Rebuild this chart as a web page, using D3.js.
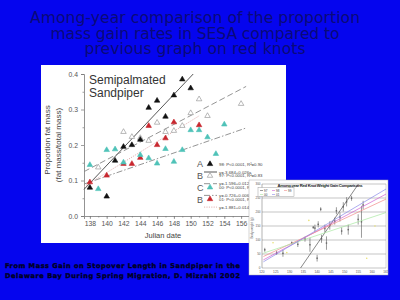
<!DOCTYPE html>
<html>
<head>
<meta charset="utf-8">
<script src="https://cdn.jsdelivr.net/npm/d3@7"></script>
<style>
  body { margin: 0; background: #0505ee; }
  svg { display: block; }
</style>
</head>
<body>
<script>
// ---- slide text ----
var titleLines = ['Among-year comparison of the proportion', 'mass gain rates in SESA compared to', 'previous graph on red knots'];
var creditLines = ['From Mass Gain on Stopover Length in Sandpiper in the', 'Delaware Bay During Spring Migration,  D. Mizrahi 2002'];

// ---- main chart (semipalmated sandpiper) ----
var xTicks = [138, 140, 142, 144, 146, 148, 150, 152, 154, 156];
var yTicks = [0.0, 0.1, 0.2, 0.3, 0.4];
var seriesKeys = ['98', '97', '00', '01'];
var seriesLetters = ['A', 'B', 'C', 'B'];
var seriesStats = ['98: P<0.0001, R\u00b2=0.90', '97: P<0.0001, R\u00b2=0.83', '00: P<0.0001, R\u00b2=0.41', '01: P<0.0001, R\u00b2=0.75'];
var seriesEquations = ['y=-3.684+0.026x', 'y=-1.596+0.012x', 'y=-0.726+0.006x', 'y=-1.881+0.014x'];

var dates98 = [138, 140, 141, 142, 143, 144, 145, 146, 147, 148, 149, 150];
var mass98 = [0.080, 0.055, 0.156, 0.195, 0.200, 0.215, 0.305, 0.325, 0.280, 0.340, 0.385, 0.360];
var dates97 = [139, 142, 143, 144, 145, 146, 147, 148, 149, 150, 151, 152, 156];
var mass97 = [0.137, 0.237, 0.223, 0.220, 0.212, 0.263, 0.237, 0.240, 0.254, 0.290, 0.329, 0.282, 0.316];
var dates00 = [138, 139, 140, 141, 142, 144, 145, 146, 147, 148, 149, 150, 151, 152, 153, 154];
var mass00 = [0.144, 0.076, 0.186, 0.188, 0.151, 0.172, 0.163, 0.148, 0.189, 0.153, 0.186, 0.242, 0.242, 0.222, 0.175, 0.258];
var dates01 = [138, 140, 142, 143, 144, 145, 146, 147, 148, 151];
var mass01 = [0.095, 0.114, 0.147, 0.147, 0.164, 0.254, 0.200, 0.219, 0.264, 0.256];

// fitted lines: [startDate, startValue, endDate, endValue]
var fit98 = [137.3, 0.075, 150.3, 0.400];
var fit97 = [137.3, 0.125, 156.6, 0.365];
var fit00 = [137.3, 0.090, 156.6, 0.248];
var fit01 = [137.3, 0.083, 151.0, 0.282];

// ---- inset (red knot weight gain) ----
var insetTitle = 'Among-year Red Knot Weight Gain Comparisons';
var insetYears = ['97', '98', '99', '00', '01'];
var insetXTicks = [120, 125, 130, 135, 140, 145, 150, 155, 160, 165];
var insetYTicks = [0, 50, 100, 150, 200, 250, 300];
var insetFits = [
  [134, 0, 155, 300],
  [120.5, 29, 165, 264],
  [120.5, 41, 165, 246],
  [120.5, 53, 165, 198],
  [120.5, 22, 165, 282]
];
var barDates = [121, 125.3, 127.6, 130.8, 133, 135.6, 137.4, 138.6, 139.2, 140, 140.4, 141.6, 142.8, 143.4, 144.6, 146.4, 147, 148.3, 148.9, 149.5, 150.7, 151.3, 152.5, 154.9, 156.1, 156.7, 141.3];
var barLow = [58, 47, 40, 85, 75, 94, 58, 140, 130, 23, 145, 90, 127, 65, 137, 155, 192, 166, 119, 202, 220, 119, 240, 155, 108, 210, 203];
var barHigh = [72, 61, 65, 95, 94, 112, 108, 150, 155, 47, 167, 119, 155, 113, 167, 180, 217, 199, 145, 235, 253, 155, 258, 192, 222, 240, 217];
var dotDates = [129, 137, 158, 161, 124];
var dotWeights = [55, 170, 35, 150, 90];

var W = 400, H = 300;
var svg = d3.select('body').append('svg').attr('width', W).attr('height', H);

svg.append('rect').attr('width', W).attr('height', H).attr('fill', '#0505ee');

// title
var titleWidth = [330, 289, 221];
svg.selectAll('.title').data(titleLines).enter().append('text')
    .attr('class', 'title')
    .attr('x', 195)
    .attr('y', function(d, i) { return 23 + i * 15.5; })
    .attr('text-anchor', 'middle')
    .attr('textLength', function(d, i) { return titleWidth[i]; })
    .style('font-family', 'DejaVu Sans, Verdana, sans-serif')
    .style('font-size', '15.5px')
    .style('fill', '#0a0a78')
    .text(function(d) { return d; });

// credit lines
svg.selectAll('.credit').data(creditLines).enter().append('text')
    .attr('class', 'credit')
    .attr('x', 5)
    .attr('y', function(d, i) { return 268 + i * 10; })
    .attr('textLength', 235)
    .style('font-family', 'DejaVu Sans, Verdana, sans-serif')
    .style('font-weight', 'bold')
    .style('font-size', '6.6px')
    .style('stroke', '#00001e')
    .style('stroke-width', 0.35)
    .style('fill', '#00001e')
    .text(function(d) { return d; });

// white panel for the main figure
svg.append('rect').attr('x', 41).attr('y', 65).attr('width', 245).attr('height', 178).attr('fill', '#ffffff');

var x = d3.scaleLinear().domain([137.3, 157]).range([84, 249.5]);
var y = d3.scaleLinear().domain([0, 0.4]).range([216, 74]);

var g = svg.append('g');
var axisColor = '#777';

// axes
g.append('g').attr('transform', 'translate(0,216)')
    .call(d3.axisBottom(x).tickValues(xTicks).tickSize(3).tickPadding(2).tickFormat(d3.format('d')));
g.append('g').attr('transform', 'translate(0,216)')
    .call(d3.axisBottom(x).tickValues(d3.range(138, 157, 1)).tickSize(1.5).tickFormat(''))
    .call(function(a) { a.select('.domain').remove(); });
g.append('g').attr('transform', 'translate(84,0)')
    .call(d3.axisLeft(y).tickValues(yTicks).tickSize(3).tickPadding(3).tickFormat(d3.format('.1f')));
g.append('g').attr('transform', 'translate(84,0)')
    .call(d3.axisLeft(y).tickValues([0.05, 0.15, 0.25, 0.35]).tickSize(1.5).tickFormat(''))
    .call(function(a) { a.select('.domain').remove(); });
g.selectAll('.domain').attr('stroke', axisColor).attr('stroke-width', 0.8);
g.selectAll('.tick line').attr('stroke', axisColor).attr('stroke-width', 0.7);
g.selectAll('.tick text')
    .style('font-family', 'Liberation Sans, Arial, sans-serif')
    .style('font-size', '6.8px')
    .style('fill', '#555');

g.append('text').attr('x', 163).attr('y', 237.5).attr('text-anchor', 'middle')
    .style('font-family', 'Liberation Sans, Arial, sans-serif').style('font-size', '7.5px').style('fill', '#444')
    .text('Julian date');
g.append('text').attr('transform', 'translate(50,140) rotate(-90)').attr('text-anchor', 'middle')
    .style('font-family', 'Liberation Sans, Arial, sans-serif').style('font-size', '8px').style('fill', '#444')
    .text('Proportion fat mass');
g.append('text').attr('transform', 'translate(61,145) rotate(-90)').attr('text-anchor', 'middle')
    .style('font-family', 'Liberation Sans, Arial, sans-serif').style('font-size', '8px').style('fill', '#444')
    .text('(fat mass/total mass)');

g.append('text').attr('x', 89).attr('y', 84)
    .style('font-family', 'Liberation Sans, Arial, sans-serif').style('font-size', '12px').style('fill', '#333')
    .text('Semipalmated');
g.append('text').attr('x', 89).attr('y', 97)
    .style('font-family', 'Liberation Sans, Arial, sans-serif').style('font-size', '12px').style('fill', '#333')
    .text('Sandpiper');

// series styles
var fits = [fit98, fit97, fit00, fit01];
var lineColors = ['#444', '#888', '#888', '#e2b4b4'];
var lineDash = [null, '6,3', '6,2,1.5,2', '1.2,1.2'];
var lineWidth = [0.9, 0.9, 0.9, 1];
var markFill = ['#111', '#fff', '#4fc2b8', '#c8262e'];
var markStroke = ['#111', '#8a8a8a', '#4fc2b8', '#c8262e'];

// regression lines
g.selectAll('.fit').data(fits).enter().append('line')
    .attr('class', 'fit')
    .attr('x1', function(d) { return x(d[0]); })
    .attr('y1', function(d) { return y(d[1]); })
    .attr('x2', function(d) { return x(d[2]); })
    .attr('y2', function(d) { return y(d[3]); })
    .attr('stroke', function(d, i) { return lineColors[i]; })
    .attr('stroke-width', function(d, i) { return lineWidth[i]; })
    .attr('stroke-dasharray', function(d, i) { return lineDash[i]; });

// points
var tri = d3.symbol().type(d3.symbolTriangle).size(13);
var allDates = [dates98, dates97, dates00, dates01];
var allMass = [mass98, mass97, mass00, mass01];
// draw 01, 00, 97 then 98 on top
[3, 2, 1, 0].forEach(function(s) {
    g.selectAll('.pt' + s).data(allDates[s]).enter().append('path')
        .attr('class', 'pt' + s)
        .attr('d', tri)
        .attr('transform', function(d, i) { return 'translate(' + x(d) + ',' + y(allMass[s][i]) + ')'; })
        .attr('fill', markFill[s])
        .attr('stroke', markStroke[s])
        .attr('stroke-width', 0.6);
});

// legend
var legend = g.append('g');
seriesKeys.forEach(function(k, i) {
    var ry = 164 + i * 11.7;
    legend.append('text').attr('x', 197).attr('y', ry + 3.4)
        .style('font-family', 'Liberation Sans, Arial, sans-serif').style('font-size', '9px').style('fill', '#555')
        .text(seriesLetters[i]);
    legend.append('path').attr('d', tri)
        .attr('transform', 'translate(210,' + ry + ')')
        .attr('fill', markFill[i]).attr('stroke', markStroke[i]).attr('stroke-width', 0.6);
    legend.append('text').attr('x', 219).attr('y', ry + 1.6)
        .style('font-family', 'Liberation Sans, Arial, sans-serif').style('font-size', '4.3px').style('fill', '#444')
        .text(seriesStats[i]);
    legend.append('line').attr('x1', 204).attr('x2', 217).attr('y1', ry + 8).attr('y2', ry + 8)
        .attr('stroke', lineColors[i]).attr('stroke-width', lineWidth[i]).attr('stroke-dasharray', lineDash[i]);
    legend.append('text').attr('x', 219).attr('y', ry + 9.5)
        .style('font-family', 'Liberation Sans, Arial, sans-serif').style('font-size', '4.3px').style('fill', '#444')
        .text(seriesEquations[i]);
});

// ---- inset figure ----
var inset = svg.append('g');
inset.append('rect').attr('x', 249).attr('y', 180).attr('width', 139).attr('height', 95)
    .attr('fill', '#fff').attr('stroke', '#aaa').attr('stroke-width', 0.5);

var xi = d3.scaleLinear().domain([120, 165]).range([262, 386]);
var yi = d3.scaleLinear().domain([0, 300]).range([268, 184]);

inset.selectAll('.grid').data(insetYTicks).enter().append('line')
    .attr('class', 'grid')
    .attr('x1', xi(120)).attr('x2', xi(165))
    .attr('y1', function(d) { return yi(d); }).attr('y2', function(d) { return yi(d); })
    .attr('stroke', '#888').attr('stroke-width', 0.5);
inset.append('line').attr('x1', xi(120)).attr('x2', xi(120)).attr('y1', yi(300)).attr('y2', yi(0))
    .attr('stroke', '#666').attr('stroke-width', 0.5);
inset.append('line').attr('x1', xi(165)).attr('x2', xi(165)).attr('y1', yi(300)).attr('y2', yi(0))
    .attr('stroke', '#999').attr('stroke-width', 0.4);

inset.selectAll('.ytl').data(insetYTicks).enter().append('text')
    .attr('x', xi(120) - 1.5).attr('y', function(d) { return yi(d) + 1; })
    .attr('text-anchor', 'end')
    .style('font-family', 'Liberation Sans, Arial, sans-serif').style('font-size', '3px').style('fill', '#555')
    .text(function(d) { return d; });
inset.selectAll('.xtl').data(insetXTicks).enter().append('text')
    .attr('x', function(d) { return xi(d); }).attr('y', 273)
    .attr('text-anchor', 'middle')
    .style('font-family', 'Liberation Sans, Arial, sans-serif').style('font-size', '3.2px').style('fill', '#555')
    .text(function(d) { return d; });
inset.append('text').attr('transform', 'translate(252.5,228) rotate(-90)').attr('text-anchor', 'middle')
    .style('font-family', 'Liberation Sans, Arial, sans-serif').style('font-size', '3px').style('fill', '#555')
    .text('Body weight (g)');

// error bars
inset.selectAll('.bar').data(barDates).enter().append('line')
    .attr('x1', function(d) { return xi(d); }).attr('x2', function(d) { return xi(d); })
    .attr('y1', function(d, i) { return yi(barLow[i]); })
    .attr('y2', function(d, i) { return yi(barHigh[i]); })
    .attr('stroke', '#555').attr('stroke-width', 0.6);
inset.selectAll('.barmid').data(barDates).enter().append('rect')
    .attr('x', function(d) { return xi(d) - 0.7; })
    .attr('y', function(d, i) { return yi((barLow[i] + barHigh[i]) / 2) - 0.7; })
    .attr('width', 1.4).attr('height', 1.4)
    .attr('fill', '#666');
inset.selectAll('.dot').data(dotDates).enter().append('circle')
    .attr('cx', function(d) { return xi(d); })
    .attr('cy', function(d, i) { return yi(dotWeights[i]); })
    .attr('r', 0.8).attr('fill', '#e8e070');

// fit lines
var insetColors = ['#555', '#d060d0', '#f08a8a', '#a8e8a0', '#8a8ae8'];
inset.selectAll('.ifit').data(insetFits).enter().append('line')
    .attr('x1', function(d) { return xi(d[0]); })
    .attr('y1', function(d) { return yi(d[1]); })
    .attr('x2', function(d) { return xi(d[2]); })
    .attr('y2', function(d) { return yi(d[3]); })
    .attr('stroke', function(d, i) { return insetColors[i]; })
    .attr('stroke-width', 0.7);

// inset title + legend
inset.append('text').attr('x', 320).attr('y', 186.5).attr('text-anchor', 'middle')
    .attr('textLength', 85)
    .style('font-family', 'Liberation Sans, Arial, sans-serif').style('font-size', '4.2px')
    .style('font-weight', 'bold').style('fill', '#222')
    .text(insetTitle);
var ileg = inset.append('g');
ileg.append('rect').attr('x', 258).attr('y', 187.5).attr('width', 36).attr('height', 9)
    .attr('fill', '#fff').attr('stroke', '#888').attr('stroke-width', 0.4);
insetYears.forEach(function(yr, i) {
    var cx = 260 + (i % 3) * 12, cy = 190.5 + Math.floor(i / 3) * 4;
    ileg.append('line').attr('x1', cx).attr('x2', cx + 3).attr('y1', cy).attr('y2', cy)
        .attr('stroke', insetColors[i]).attr('stroke-width', 0.6);
    ileg.append('text').attr('x', cx + 4).attr('y', cy + 1)
        .style('font-family', 'Liberation Sans, Arial, sans-serif').style('font-size', '3px').style('fill', '#333')
        .text(yr);
});
</script>
</body>
</html>
